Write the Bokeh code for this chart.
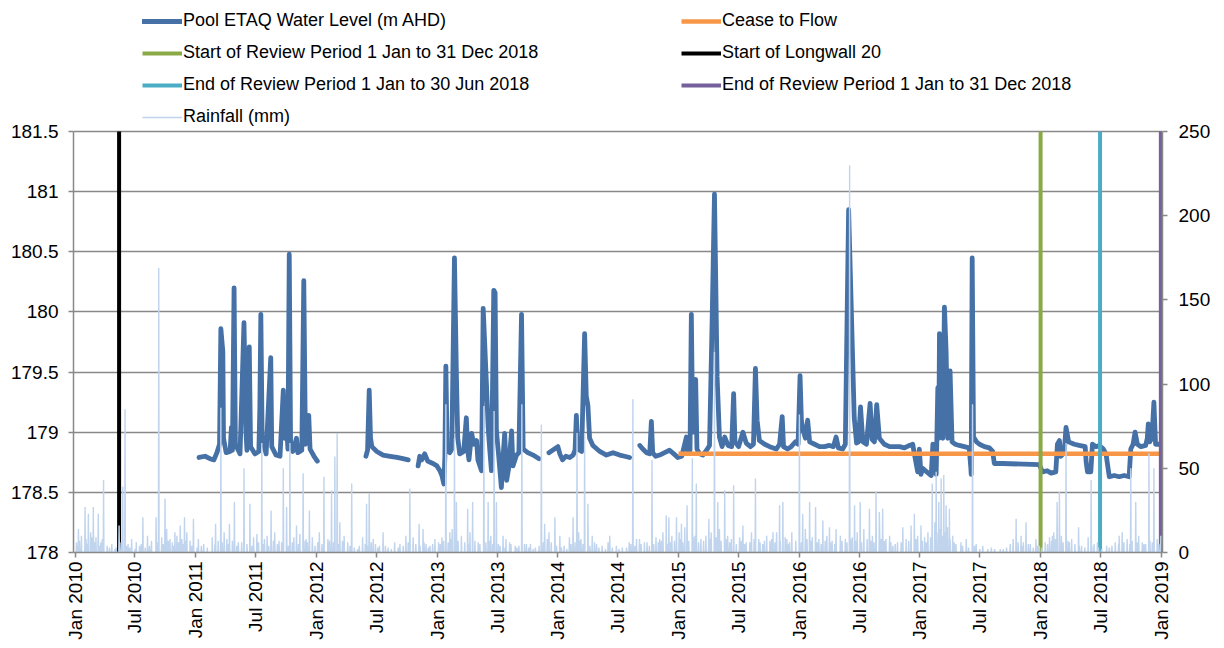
import numpy as np
import pandas as pd
from bokeh.plotting import figure
from bokeh.models import (Range1d, LinearAxis, FixedTicker, DatetimeTickFormatter,
                          CustomJSTickFormatter, Legend, LegendItem)
from bokeh.embed import file_html
from bokeh.resources import INLINE

# ---------------- data ----------------
level_dates = [
    "2011-01-11", "2011-01-29", "2011-02-13", "2011-02-25", "2011-03-06", "2011-03-14", "2011-03-18",
    "2011-03-24", "2011-03-26", "2011-04-03", "2011-04-15", "2011-04-19", "2011-04-22", "2011-04-27",
    "2011-05-01", "2011-05-15", "2011-05-27", "2011-06-02", "2011-06-05", "2011-06-12", "2011-06-16",
    "2011-06-29", "2011-07-11", "2011-07-14", "2011-07-17", "2011-07-21", "2011-08-02", "2011-08-16",
    "2011-08-19", "2011-09-01", "2011-09-13", "2011-09-23", "2011-09-27", "2011-10-03", "2011-10-07",
    "2011-10-11", "2011-10-15", "2011-10-22", "2011-11-02", "2011-11-06", "2011-11-18", "2011-11-24",
    "2011-11-29", "2011-12-09", "2011-12-13", "2011-12-25", "2012-01-04",
    "2012-03-01",
    "2012-05-30", "2012-06-04", "2012-06-09", "2012-06-13", "2012-06-17", "2012-07-02", "2012-07-21",
    "2012-08-11", "2012-09-01", "2012-09-19", "2012-10-05",
    "2012-10-20",
    "2012-11-04", "2012-11-09", "2012-11-15", "2012-11-24", "2012-12-03", "2012-12-19", "2012-12-31",
    "2013-01-09", "2013-01-15", "2013-01-21", "2013-01-24", "2013-01-27", "2013-01-31", "2013-02-08",
    "2013-02-14", "2013-02-22", "2013-02-28", "2013-03-04", "2013-03-10", "2013-03-22", "2013-03-30",
    "2013-04-03", "2013-04-07", "2013-04-15", "2013-04-22", "2013-04-30", "2013-05-04", "2013-05-15",
    "2013-05-20", "2013-05-30", "2013-06-04", "2013-06-09", "2013-06-14", "2013-06-21", "2013-06-25",
    "2013-06-29", "2013-07-06", "2013-07-14", "2013-07-18", "2013-07-24", "2013-07-30", "2013-08-05",
    "2013-08-14", "2013-08-18", "2013-08-29", "2013-09-05", "2013-09-13", "2013-09-18", "2013-10-02",
    "2013-10-18", "2013-11-05",
    "2013-11-20",
    "2013-12-05", "2013-12-16", "2014-01-01", "2014-01-07", "2014-01-15", "2014-01-25", "2014-02-06",
    "2014-02-16", "2014-02-22", "2014-02-26", "2014-03-02", "2014-03-14", "2014-03-23", "2014-03-28",
    "2014-04-02", "2014-04-07", "2014-04-17", "2014-05-08", "2014-05-28", "2014-06-17", "2014-07-07",
    "2014-07-22", "2014-08-06",
    "2014-08-20",
    "2014-09-06", "2014-09-15", "2014-09-26", "2014-10-06", "2014-10-11", "2014-10-15", "2014-10-24",
    "2014-11-05", "2014-11-20", "2014-12-05", "2014-12-18", "2014-12-30", "2015-01-11", "2015-01-25",
    "2015-01-30", "2015-02-05", "2015-02-09", "2015-02-13", "2015-02-22", "2015-02-26", "2015-03-06",
    "2015-03-16", "2015-03-27", "2015-04-05", "2015-04-13", "2015-04-20", "2015-04-28", "2015-05-05",
    "2015-05-13", "2015-05-21", "2015-05-31", "2015-06-11", "2015-06-17", "2015-06-21", "2015-07-02",
    "2015-07-15", "2015-07-25", "2015-08-07", "2015-08-16", "2015-08-22", "2015-08-27", "2015-09-03",
    "2015-09-19", "2015-10-04", "2015-10-24", "2015-11-03", "2015-11-11", "2015-11-15", "2015-11-27",
    "2015-12-08", "2015-12-21", "2015-12-29", "2016-01-04", "2016-01-08", "2016-01-12", "2016-01-20",
    "2016-01-27", "2016-02-02", "2016-02-17", "2016-03-03", "2016-03-18", "2016-04-02", "2016-04-14",
    "2016-04-22", "2016-04-29", "2016-05-12", "2016-05-20", "2016-05-30", "2016-06-08", "2016-06-16",
    "2016-06-23", "2016-06-29", "2016-07-05", "2016-07-12", "2016-07-23", "2016-08-03", "2016-08-09",
    "2016-08-16", "2016-08-23", "2016-08-31", "2016-09-15", "2016-10-01", "2016-10-16", "2016-10-31",
    "2016-11-15", "2016-11-30", "2016-12-10", "2016-12-15", "2016-12-25", "2016-12-30", "2017-01-04",
    "2017-01-09", "2017-01-17", "2017-02-04", "2017-02-09", "2017-02-14", "2017-02-19", "2017-02-24",
    "2017-02-27", "2017-03-01", "2017-03-06", "2017-03-11", "2017-03-16", "2017-03-21", "2017-03-26",
    "2017-04-02", "2017-04-08", "2017-04-18", "2017-04-30", "2017-05-15", "2017-05-30", "2017-06-04",
    "2017-06-05", "2017-06-08", "2017-06-12", "2017-06-21", "2017-06-30", "2017-07-15", "2017-07-30",
    "2017-08-09", "2017-08-14", "2017-09-08", "2017-12-28", "2018-01-02", "2018-01-07", "2018-01-21",
    "2018-02-02", "2018-02-16", "2018-02-21", "2018-02-27", "2018-03-03", "2018-03-07", "2018-03-14",
    "2018-03-19", "2018-03-27", "2018-04-13", "2018-04-28", "2018-05-16", "2018-05-19", "2018-05-23",
    "2018-06-02", "2018-06-07", "2018-06-18", "2018-06-28", "2018-07-10", "2018-07-18", "2018-07-28",
    "2018-08-12", "2018-08-27", "2018-09-11", "2018-09-26", "2018-10-01", "2018-10-08", "2018-10-14",
    "2018-10-21", "2018-11-01", "2018-11-15", "2018-11-20", "2018-11-23", "2018-11-27", "2018-12-04",
    "2018-12-10", "2018-12-15", "2018-12-25",
]
level_values = [
    178.79, 178.80, 178.78, 178.77, 178.83, 178.90, 179.86,
    179.67, 178.95, 178.83, 178.84, 179.04, 178.85, 180.20,
    178.90, 178.82, 179.91, 179.00, 178.85, 179.71, 178.88,
    178.82, 178.84, 179.20, 179.98, 178.95, 178.82, 179.62,
    178.88, 178.81, 178.80, 179.35, 178.95, 179.04, 178.86,
    180.48, 178.92, 178.84, 178.95, 178.83, 178.85, 180.26,
    178.90, 179.14, 178.86, 178.80, 178.76,
    None,
    178.80, 178.85, 179.35, 178.95, 178.88, 178.84, 178.81,
    178.80, 178.79, 178.78, 178.77,
    None,
    178.72, 178.80, 178.77, 178.82, 178.76, 178.74, 178.72,
    178.68, 178.64, 178.57, 178.80, 179.55, 178.85, 178.83,
    178.86, 180.45, 179.46, 178.95, 178.82, 178.84, 179.12,
    178.85, 178.77, 178.99, 178.90, 178.93, 178.77, 178.68,
    180.03, 179.39, 179.04, 178.85, 178.68, 180.18, 180.16,
    179.01, 178.80, 178.54, 178.75, 178.99, 178.60, 178.70,
    179.01, 178.72, 178.81, 178.83, 179.98, 178.86, 178.83,
    178.81, 178.78,
    None,
    178.83, 178.85, 178.88, 178.82, 178.77, 178.80, 178.79,
    178.81, 178.85, 179.14, 178.86, 178.84, 179.82, 179.30,
    179.22, 178.95, 178.89, 178.84, 178.81, 178.83, 178.81,
    178.80, 178.79,
    None,
    178.89, 178.86, 178.83, 178.82, 179.09, 178.83, 178.80,
    178.81, 178.83, 178.85, 178.82, 178.79, 178.80, 178.96,
    178.84, 178.85, 179.98, 179.00, 179.44, 178.86, 178.82,
    178.81, 178.85, 178.89, 179.94, 180.98, 179.46, 178.96,
    178.88, 178.96, 178.89, 178.88, 179.32, 178.92, 178.88,
    179.00, 178.91, 178.88, 178.90, 179.53, 179.10, 178.93,
    178.90, 178.88, 178.86, 178.90, 179.13, 178.88, 178.86,
    178.88, 178.92, 178.90, 179.47, 179.10, 179.03, 178.95,
    179.10, 178.92, 178.90, 178.88, 178.88, 178.89, 178.88,
    178.96, 178.87, 178.86, 178.90, 180.85, 179.93, 179.12,
    178.91, 178.92, 179.21, 178.92, 178.90, 179.24, 178.94,
    178.92, 179.23, 178.95, 178.90, 178.88, 178.88, 178.88,
    178.87, 178.89, 178.90, 178.82, 178.67, 178.86, 178.65,
    178.70, 178.68, 178.64, 178.90, 178.70, 178.65, 179.37,
    178.95, 179.82, 179.72, 178.95, 180.04, 179.68, 178.95,
    179.51, 178.92, 178.90, 178.89, 178.88, 178.87, 178.70,
    178.65, 180.45, 178.96, 178.92, 178.90, 178.88, 178.87,
    178.84, 178.74, 178.74, 178.73, 178.70, 178.67, 178.68,
    178.66, 178.67, 178.90, 178.93, 178.80, 178.81, 178.85,
    179.04, 178.92, 178.90, 178.89, 178.88, 178.75, 178.67,
    178.67, 178.90, 178.88, 178.89, 178.86, 178.82, 178.63,
    178.64, 178.63, 178.64, 178.63, 178.86, 178.90, 179.00,
    178.90, 178.88, 178.89, 178.95, 179.07, 178.92, 178.95,
    179.25, 178.90, 178.90,
]

# daily rainfall: main events
rain_dates = [
    "2010-01-11", "2010-01-31", "2010-02-10", "2010-02-25", "2010-03-12", "2010-03-28", "2010-04-22",
    "2010-05-14", "2010-05-25", "2010-06-01", "2010-06-21", "2010-07-25", "2010-08-08", "2010-09-03",
    "2010-09-11", "2010-09-30", "2010-10-15", "2010-10-30", "2010-11-15", "2010-11-28", "2010-12-25",
    "2011-01-09", "2011-03-02", "2011-03-18", "2011-04-13", "2011-04-28", "2011-05-27", "2011-06-14",
    "2011-07-20", "2011-08-17", "2011-09-23", "2011-10-03", "2011-10-13", "2011-11-02", "2011-11-22",
    "2011-12-11", "2012-01-24", "2012-02-16", "2012-02-26", "2012-03-04", "2012-03-12", "2012-04-17",
    "2012-06-01", "2012-06-09", "2012-06-21", "2012-07-21", "2012-09-10", "2012-09-28", "2012-10-10",
    "2012-11-07", "2012-11-19", "2012-12-25", "2013-01-27", "2013-02-08", "2013-02-22", "2013-02-28",
    "2013-04-03", "2013-04-18", "2013-05-22", "2013-06-04", "2013-06-22", "2013-06-29", "2013-07-19",
    "2013-08-08", "2013-09-14", "2013-09-28", "2013-11-12", "2013-11-22", "2013-12-05", "2013-12-23",
    "2014-01-07", "2014-02-16", "2014-02-28", "2014-03-23", "2014-04-02", "2014-04-28", "2014-06-02",
    "2014-06-07", "2014-06-27", "2014-08-16", "2014-08-27", "2014-10-13", "2014-11-05", "2014-11-25",
    "2014-12-03", "2014-12-26", "2015-01-10", "2015-01-27", "2015-02-12", "2015-02-24", "2015-04-03",
    "2015-04-20", "2015-04-30", "2015-05-21", "2015-06-17", "2015-07-15", "2015-08-22", "2015-09-13",
    "2015-10-14", "2015-11-03", "2015-11-13", "2015-11-28", "2016-01-02", "2016-01-12", "2016-02-02",
    "2016-02-20", "2016-03-13", "2016-04-02", "2016-04-22", "2016-06-02", "2016-06-17", "2016-07-04",
    "2016-08-01", "2016-08-21", "2016-09-10", "2016-08-31", "2016-10-11", "2016-11-10", "2016-12-05",
    "2016-12-15", "2017-01-04", "2017-02-07", "2017-02-19", "2017-02-27", "2017-03-06", "2017-03-14",
    "2017-03-21", "2017-03-31", "2017-04-20", "2017-05-21", "2017-06-09", "2017-10-19", "2017-11-03",
    "2017-11-18", "2017-12-18", "2018-02-06", "2018-02-20", "2018-02-27", "2018-03-19", "2018-03-29",
    "2018-04-26", "2018-06-03", "2018-06-22", "2018-08-27", "2018-10-01", "2018-10-16", "2018-11-10",
    "2018-11-25", "2018-12-10", "2018-12-31",
]
rain_mm = [
    14, 27, 23, 27, 23, 43, 5,
    16, 39, 85, 8, 21, 10, 21,
    169, 32, 8, 12, 16, 21, 20,
    8, 17, 86, 17, 30, 50, 29,
    65, 25, 50, 27, 65, 16, 47,
    25, 45, 37, 57, 71, 18, 41,
    29, 35, 8, 12, 5, 10, 38,
    17, 14, 8, 88, 12, 68, 30,
    26, 30, 87, 30, 84, 30, 10,
    6, 88, 5, 76, 17, 12, 21,
    10, 21, 71, 71, 29, 5, 6,
    10, 4, 91, 8, 55, 8, 22,
    21, 21, 17, 28, 56, 41, 20,
    119, 30, 37, 40, 16, 44, 5,
    12, 28, 30, 5, 82, 23, 30,
    27, 19, 15, 14, 230, 28, 30,
    26, 36, 26, 24, 4, 15, 16,
    23, 16, 41, 48, 30, 44, 46,
    28, 26, 5, 8, 88, 20, 10,
    18, 8, 10, 30, 36, 65, 6,
    15, 43, 6, 10, 50, 30, 5,
    59, 50, 10,
]

# daily rainfall: smaller falls
minor_rain_dates = [
    "2010-01-05", "2010-01-20", "2010-02-03", "2010-02-17", "2010-03-05", "2010-03-20", "2010-04-08",
    "2010-05-05", "2010-06-10", "2010-07-05", "2010-07-15", "2010-08-20", "2010-09-20", "2010-10-05",
    "2010-10-22", "2010-11-05", "2010-11-20", "2010-12-05", "2010-12-15",
    "2011-01-25", "2011-02-20", "2011-03-28", "2011-04-05", "2011-05-10", "2011-06-25", "2011-07-05",
    "2011-07-28", "2011-08-05", "2011-08-28", "2011-09-10", "2011-10-25", "2011-11-12", "2011-12-01",
    "2011-12-20",
    "2012-01-10", "2012-02-05", "2012-03-25", "2012-04-05", "2012-05-10", "2012-05-20", "2012-06-28",
    "2012-07-10", "2012-08-05", "2012-08-25", "2012-10-20", "2012-11-28", "2012-12-10",
    "2013-01-05", "2013-01-15", "2013-02-15", "2013-03-15", "2013-04-10", "2013-05-05", "2013-06-12",
    "2013-07-05", "2013-07-28", "2013-08-25", "2013-10-10", "2013-10-25", "2013-11-30", "2013-12-12",
    "2014-01-20", "2014-02-05", "2014-03-05", "2014-03-12", "2014-04-15", "2014-05-15", "2014-07-15",
    "2014-08-05", "2014-09-05", "2014-09-20", "2014-10-25", "2014-11-15", "2014-12-12",
    "2015-01-03", "2015-01-20", "2015-02-20", "2015-03-10", "2015-03-25", "2015-04-10", "2015-05-05",
    "2015-05-30", "2015-06-10", "2015-07-05", "2015-07-25", "2015-08-10", "2015-09-01", "2015-09-25",
    "2015-10-05", "2015-10-25", "2015-11-20", "2015-12-10",
    "2016-01-20", "2016-02-10", "2016-03-01", "2016-03-25", "2016-04-10", "2016-05-05", "2016-05-20",
    "2016-06-10", "2016-06-25", "2016-07-15", "2016-08-10", "2016-09-01", "2016-09-20", "2016-10-01",
    "2016-10-25", "2016-11-20", "2016-12-25",
    "2017-01-15", "2017-01-25", "2017-02-15", "2017-03-25", "2017-04-10", "2017-05-05", "2017-06-20",
    "2017-07-10", "2017-08-05", "2017-09-01", "2017-09-20", "2017-10-10", "2017-11-10", "2017-12-01",
    "2017-12-28",
    "2018-01-15", "2018-01-28", "2018-02-10", "2018-03-05", "2018-04-05", "2018-05-05", "2018-05-25",
    "2018-06-12", "2018-07-20", "2018-08-15", "2018-09-05", "2018-09-20", "2018-10-25", "2018-11-05",
    "2018-12-20",
]
minor_rain_mm = [
    6, 10, 8, 12, 9, 6, 4,
    3, 5, 6, 4, 7, 9, 14,
    6, 10, 8, 12, 7,
    5, 9, 12, 8, 6, 9, 11,
    8, 10, 12, 7, 9, 11, 8,
    9,
    12, 8, 10, 6, 4, 9, 5,
    4, 3, 6, 9, 5, 4,
    6, 9, 14, 10, 12, 6, 10,
    5, 8, 4, 5, 3, 8, 6,
    4, 9, 12, 8, 10, 4, 3,
    6, 8, 6, 9, 12, 10,
    12, 15, 10, 8, 10, 12, 14,
    10, 8, 9, 6, 12, 8, 10,
    7, 12, 9, 12,
    14, 9, 8, 10, 7, 10, 8,
    9, 12, 14, 10, 12, 8, 10,
    6, 8, 10,
    9, 12, 18, 15, 10, 6, 5,
    4, 3, 2, 3, 8, 6, 5,
    4,
    6, 9, 12, 10, 8, 4, 9,
    5, 4, 6, 12, 8, 10, 6,
    8,
]

# daily rainfall: light falls
light_rain_dates = [
    "2010-01-08", "2010-01-14", "2010-02-06", "2010-02-21", "2010-03-01", "2010-03-16", "2010-03-24",
    "2010-04-15", "2010-05-01", "2010-05-20", "2010-06-05", "2010-06-15", "2010-07-01", "2010-07-20",
    "2010-08-01", "2010-08-14", "2010-09-07", "2010-09-25", "2010-10-10", "2010-10-26", "2010-11-10",
    "2010-11-24", "2010-12-01", "2010-12-20",
    "2011-01-05", "2011-01-18", "2011-02-05", "2011-02-28", "2011-03-10", "2011-03-22", "2011-04-10",
    "2011-04-22", "2011-05-05", "2011-05-20", "2011-06-05", "2011-06-20", "2011-07-10", "2011-07-25",
    "2011-08-10", "2011-08-24", "2011-09-05", "2011-09-18", "2011-10-08", "2011-10-20", "2011-11-08",
    "2011-11-28", "2011-12-05", "2011-12-28",
    "2012-01-05", "2012-01-18", "2012-02-10", "2012-02-22", "2012-03-08", "2012-03-20", "2012-04-12",
    "2012-04-25", "2012-05-05", "2012-05-28", "2012-06-05", "2012-06-15", "2012-07-05", "2012-07-28",
    "2012-08-15", "2012-09-05", "2012-09-20", "2012-10-05", "2012-10-28", "2012-11-10", "2012-11-22",
    "2012-12-05", "2012-12-18",
    "2013-01-10", "2013-01-20", "2013-02-03", "2013-02-12", "2013-03-05", "2013-03-25", "2013-04-05",
    "2013-04-25", "2013-05-10", "2013-05-28", "2013-06-08", "2013-06-18", "2013-07-10", "2013-07-22",
    "2013-08-12", "2013-08-30", "2013-09-05", "2013-09-22", "2013-10-05", "2013-10-18", "2013-11-05",
    "2013-11-18", "2013-12-01", "2013-12-28",
    "2014-01-12", "2014-01-28", "2014-02-10", "2014-02-22", "2014-03-08", "2014-03-18", "2014-04-08",
    "2014-04-22", "2014-05-05", "2014-05-25", "2014-06-15", "2014-07-05", "2014-07-28", "2014-08-10",
    "2014-08-22", "2014-09-10", "2014-09-28", "2014-10-05", "2014-10-18", "2014-11-01", "2014-11-10",
    "2014-11-30", "2014-12-08", "2014-12-20",
    "2015-01-06", "2015-01-14", "2015-02-01", "2015-02-15", "2015-03-03", "2015-03-18", "2015-04-06",
    "2015-04-25", "2015-05-10", "2015-05-25", "2015-06-05", "2015-06-25", "2015-07-10", "2015-07-20",
    "2015-08-05", "2015-08-18", "2015-09-05", "2015-09-18", "2015-10-10", "2015-10-20", "2015-11-05",
    "2015-11-25", "2015-12-03", "2015-12-22",
    "2016-01-08", "2016-01-25", "2016-02-05", "2016-02-25", "2016-03-08", "2016-03-20", "2016-04-05",
    "2016-04-18", "2016-05-10", "2016-05-25", "2016-06-05", "2016-06-20", "2016-07-08", "2016-07-25",
    "2016-08-05", "2016-08-15", "2016-09-05", "2016-09-15", "2016-10-05", "2016-10-18", "2016-11-05",
    "2016-11-28", "2016-12-05", "2016-12-20",
    "2017-01-08", "2017-01-20", "2017-02-02", "2017-02-25", "2017-03-02", "2017-03-10", "2017-03-18",
    "2017-04-02", "2017-04-15", "2017-05-10", "2017-05-28", "2017-06-15", "2017-07-01", "2017-07-25",
    "2017-08-15", "2017-09-10", "2017-10-01", "2017-10-25", "2017-11-05", "2017-11-25", "2017-12-10",
    "2017-12-22",
    "2018-01-05", "2018-01-22", "2018-02-03", "2018-02-15", "2018-03-10", "2018-03-25", "2018-04-15",
    "2018-04-28", "2018-05-15", "2018-06-05", "2018-06-25", "2018-07-05", "2018-07-28", "2018-08-05",
    "2018-08-25", "2018-09-10", "2018-09-28", "2018-10-05", "2018-10-20", "2018-11-15", "2018-11-28",
    "2018-12-05", "2018-12-25",
]
light_rain_mm = [
    4, 7, 5, 9, 6, 4, 8,
    3, 2, 6, 4, 3, 2, 5,
    3, 4, 6, 5, 7, 4, 6,
    5, 7, 4,
    3, 4, 3, 5, 7, 6, 5,
    7, 4, 6, 5, 4, 6, 5,
    4, 7, 5, 6, 4, 6, 5,
    7, 6, 4,
    6, 5, 7, 6, 5, 7, 4,
    3, 2, 5, 4, 6, 3, 4,
    2, 3, 4, 6, 5, 4, 6,
    3, 5,
    5, 7, 6, 8, 7, 6, 5,
    7, 5, 6, 7, 5, 4, 3,
    5, 3, 4, 5, 3, 2, 4,
    6, 5, 4,
    3, 2, 5, 6, 7, 5, 4,
    6, 3, 2, 3, 2, 3, 5,
    4, 5, 6, 4, 5, 6, 7,
    5, 6, 7,
    8, 6, 7, 9, 6, 7, 8,
    9, 7, 8, 6, 5, 7, 5,
    6, 8, 6, 7, 8, 6, 7,
    8, 6, 7,
    6, 8, 7, 6, 5, 7, 6,
    5, 7, 6, 8, 7, 6, 8,
    7, 6, 8, 7, 6, 5, 6,
    7, 6, 8,
    7, 6, 9, 12, 14, 10, 12,
    8, 6, 4, 3, 4, 2, 2,
    2, 2, 5, 6, 4, 5, 3,
    4,
    3, 5, 7, 8, 6, 7, 5,
    4, 3, 4, 3, 2, 3, 4,
    5, 6, 5, 7, 6, 5, 7,
    6, 5,
]

cease_to_flow_level = 178.82
cease_to_flow_period = ["2015-01-01", "2018-12-31"]
longwall20_start = "2010-05-14"
review_start = "2018-01-01"
review_end_jun = "2018-06-30"
review_end_dec = "2018-12-31"

level_axis = (178.0, 181.5)
rain_axis = (0.0, 250.0)
y_ticks = [178, 178.5, 179, 179.5, 180, 180.5, 181, 181.5]
rain_ticks = [0, 50, 100, 150, 200, 250]
x_tick_dates = [f"{y}-{m:02d}-01" for y in range(2010, 2019) for m in (1, 7)] + ["2019-01-01"]

# ---------------- build series ----------------
lvl_x = pd.to_datetime(level_dates)
lvl_y = np.array([np.nan if v is None else v for v in level_values], dtype=float)

days = pd.date_range("2010-01-01", "2018-12-31", freq="D")
rain = pd.Series(0.0, index=days)
for d, v in zip(rain_dates + minor_rain_dates + light_rain_dates,
                rain_mm + minor_rain_mm + light_rain_mm):
    rain[pd.Timestamp(d)] = max(rain[pd.Timestamp(d)], v)

# ---------------- styles / layout ----------------
FONT = "Liberation Sans"
GRID = "#898989"
C_LEVEL = "#4571A7"
C_CEASE = "#F79646"
C_LW = "#000000"
C_RS = "#8AAA47"
C_REJ = "#4BACC6"
C_RED = "#75609C"
C_RAIN = "#C0D4EE"

W, H = 1215, 645
AX_TOP, AX_BOTTOM = 131, 552          # screen rows of the axes' top and bottom
FRAME_H = AX_BOTTOM                    # frame runs from the top of the canvas
scale_ext = FRAME_H / (AX_BOTTOM - AX_TOP)
lvl_top = level_axis[0] + (level_axis[1] - level_axis[0]) * scale_ext
rain_top = rain_axis[0] + (rain_axis[1] - rain_axis[0]) * scale_ext

p = figure(width=W, height=H, x_axis_type="datetime", output_backend="svg",
           toolbar_location=None,
           x_range=Range1d(pd.Timestamp("2009-12-27"), pd.Timestamp("2019-01-05")),
           y_range=Range1d(level_axis[0], lvl_top),
           min_border_left=73, min_border_right=W - 1162, min_border_top=0,
           min_border_bottom=H - AX_BOTTOM)
p.outline_line_color = None
p.extra_y_ranges = {"rain": Range1d(rain_axis[0], rain_top)}

p.xgrid.visible = False
p.ygrid.grid_line_color = GRID
p.ygrid.grid_line_width = 1.5

p.yaxis.ticker = FixedTicker(ticks=y_ticks)
p.yaxis.bounds = level_axis
p.yaxis.formatter = CustomJSTickFormatter(code="return String(tick)")
x_ms = [pd.Timestamp(d).value // 10**6 for d in x_tick_dates]
p.xaxis.ticker = FixedTicker(ticks=x_ms)
fmt = "%b %Y"
p.xaxis.formatter = DatetimeTickFormatter(milliseconds=fmt, seconds=fmt, minsec=fmt, minutes=fmt,
                                          hourmin=fmt, hours=fmt, days=fmt, months=fmt, years=fmt)
p.xaxis.major_label_orientation = np.pi / 2

raxis = LinearAxis(y_range_name="rain", ticker=FixedTicker(ticks=rain_ticks), bounds=rain_axis)
p.add_layout(raxis, "right")

for ax in [p.xaxis[0], p.yaxis[0], raxis]:
    ax.axis_line_color = GRID
    ax.axis_line_width = 1.5
    ax.major_tick_line_color = GRID
    ax.major_tick_line_width = 1.5
    ax.major_tick_out = 5
    ax.major_tick_in = 0
    ax.minor_tick_line_color = None
    ax.major_label_text_font = FONT
    ax.major_label_text_font_size = "19px"
    ax.major_label_text_color = "#000000"
p.yaxis[0].major_label_standoff = 10
raxis.major_label_standoff = 11
p.xaxis[0].major_label_standoff = 4

r_level = p.line(lvl_x, lvl_y, line_color=C_LEVEL, line_width=4.8, line_join="round", line_cap="round")
r_cease = p.line(pd.to_datetime(cease_to_flow_period), [cease_to_flow_level] * 2,
                 line_color=C_CEASE, line_width=4.5)


def vline(date, color):
    d = pd.Timestamp(date)
    return p.line([d, d], list(level_axis), line_color=color, line_width=4)


r_lw = vline(longwall20_start, C_LW)
r_rs = vline(review_start, C_RS)
r_rej = vline(review_end_jun, C_REJ)
r_red = vline(review_end_dec, C_RED)

r_rain = p.line(rain.index, rain.values, y_range_name="rain", line_color=C_RAIN, line_width=1.4)


# ---------------- legend (two columns above the axes) ----------------
def make_legend(items, loc):
    lg = Legend(items=items, location=loc, orientation="vertical")
    lg.padding = 0
    lg.margin = 0
    lg.spacing = 11
    lg.glyph_width = 40
    lg.glyph_height = 20
    lg.label_height = 20
    lg.label_standoff = 1
    lg.label_text_font = FONT
    lg.label_text_font_size = "18px"
    lg.label_text_color = "#000000"
    lg.border_line_alpha = 0
    lg.background_fill_alpha = 0
    return lg


leg1 = make_legend([
    LegendItem(label="Pool ETAQ Water Level (m AHD)", renderers=[r_level]),
    LegendItem(label="Start of Review Period 1 Jan to 31 Dec 2018", renderers=[r_rs]),
    LegendItem(label="End of Review Period 1 Jan to 30 Jun 2018", renderers=[r_rej]),
    LegendItem(label="Rainfall (mm)", renderers=[r_rain]),
], (69, 425))
leg2 = make_legend([
    LegendItem(label="Cease to Flow", renderers=[r_cease]),
    LegendItem(label="Start of Longwall 20", renderers=[r_lw]),
    LegendItem(label="End of Review Period 1 Jan to 31 Dec 2018", renderers=[r_red]),
], (608, 457))
p.add_layout(leg1, "center")
p.add_layout(leg2, "center")

open("out.html", "w").write(file_html(p, INLINE))
